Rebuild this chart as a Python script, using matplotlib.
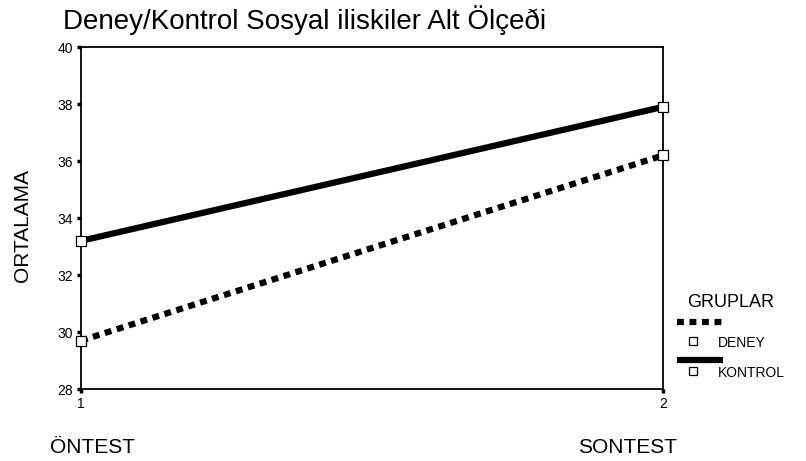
import matplotlib
matplotlib.use('Agg')
import matplotlib.pyplot as plt
from matplotlib.lines import Line2D

plt.rcParams['font.family'] = ['Liberation Sans', 'DejaVu Sans']

# === DADOS ===
olcum = [1, 2]
deney = [29.7, 36.2]
kontrol = [33.2, 37.9]
y_ticks = [28, 30, 32, 34, 36, 38, 40]

fig = plt.figure(figsize=(8.06, 4.61), dpi=100)
ax = fig.add_axes([0.1005, 0.156, 0.7221, 0.742])

# Çizgiler
ax.plot(olcum, kontrol, color='black', lw=4.5, solid_capstyle='butt', zorder=3)
ax.plot(olcum, deney, color='black', lw=4.5, linestyle=(0, (1.1, 0.9)),
        dash_capstyle='butt', zorder=3)
ax.plot(olcum, kontrol, linestyle='none', marker='s', ms=7, mfc='white',
        mec='black', mew=0.9, clip_on=False, zorder=4)
ax.plot(olcum, deney, linestyle='none', marker='s', ms=7, mfc='white',
        mec='black', mew=0.9, clip_on=False, zorder=4)

ax.set_xlim(1, 2)
ax.set_ylim(28, 40)
ax.set_xticks(olcum)
ax.set_yticks(y_ticks)
ax.tick_params(axis='both', direction='out', length=3, width=2.5,
               labelsize=10, pad=3)
for s in ax.spines.values():
    s.set_linewidth(1.3)

fig.text(0.078, 0.937, 'Deney/Kontrol Sosyal iliskiler Alt Ölçeði',
         fontsize=20, va='baseline')
fig.text(0.0285, 0.51, 'ORTALAMA', fontsize=15, rotation=90,
         ha='center', va='center')

fig.text(0.062, 0.017, 'ÖNTEST', fontsize=15, va='baseline')
fig.text(0.717, 0.017, 'SONTEST', fontsize=15, va='baseline')

# === LEGENDA ===
fig.text(0.852, 0.334, 'GRUPLAR', fontsize=13, va='baseline')
fig.add_artist(Line2D([0.840, 0.897], [0.3015, 0.3015], color='black', lw=4.5,
                      linestyle=(0, (1.1, 0.9)), dash_capstyle='butt'))
fig.add_artist(Line2D([0.860], [0.260], marker='s', ms=5.5, mfc='white',
                      mec='black', mew=0.9, linestyle='none'))
fig.text(0.891, 0.247, 'DENEY', fontsize=10, va='baseline')
fig.add_artist(Line2D([0.840, 0.897], [0.219, 0.219], color='black', lw=4.5,
                      solid_capstyle='butt'))
fig.add_artist(Line2D([0.860], [0.195], marker='s', ms=5.5, mfc='white',
                      mec='black', mew=0.9, linestyle='none'))
fig.text(0.891, 0.182, 'KONTROL', fontsize=10, va='baseline')

fig.savefig('out.png', dpi=100)
